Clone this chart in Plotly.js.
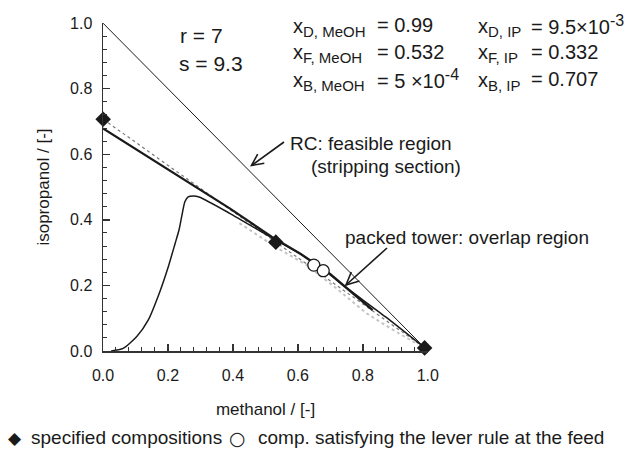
<!DOCTYPE html>
<html>
<head>
<meta charset="utf-8">
<script src="https://cdn.plot.ly/plotly-3.0.1.min.js"></script>
<style>html,body{margin:0;padding:0;background:#fff;}#chart{width:639px;height:453px;}</style>
</head>
<body>
<div id="chart"></div>
<script>
// ---- data ----
// specified compositions (B, F, D): methanol / isopropanol
const specX = [0.0005, 0.532, 0.99];
const specY = [0.707, 0.332, 0.0095];
// compositions satisfying the lever rule at the feed
const leverX = [0.649, 0.678];
const leverY = [0.262, 0.245];
// feasible-region boundary (triangle hypotenuse)
const diagX = [0, 1];
const diagY = [1, 0];
// mass balance line B-F-D (dotted)
const mbX = [0.0005, 0.99];
const mbY = [0.707, 0.0095];
// thick profile (rectifying)
const profX = [0, 0.10, 0.20, 0.30, 0.39, 0.52, 0.61, 0.70, 0.74, 0.83];
const profY = [0.679, 0.616, 0.554, 0.492, 0.435, 0.348, 0.295, 0.234, 0.200, 0.125];
// stripping profile curve
const curveX = [0.025, 0.062, 0.104, 0.139, 0.175, 0.201, 0.222, 0.234, 0.242, 0.252, 0.262, 0.278, 0.298, 0.39, 0.52, 0.61, 0.70, 0.74, 0.87, 0.99];
const curveY = [0.0, 0.008, 0.044, 0.094, 0.181, 0.257, 0.328, 0.369, 0.409, 0.455, 0.470, 0.473, 0.469, 0.420, 0.345, 0.295, 0.232, 0.200, 0.104, 0.01];
// overlap band (gray stipple)
const bandX = [0.42, 0.53, 0.627, 0.72, 0.811, 0.90, 0.97];
const bandY = [0.39, 0.318, 0.262, 0.19, 0.115, 0.06, 0.02];

const xTitle = 'methanol / [-]';
const yTitle = 'isopropanol / [-]';
const specLabels = ['x<sub><span style="font-size:15px">D, MeOH</span></sub>',
                    'x<sub><span style="font-size:15px">F, MeOH</span></sub>',
                    'x<sub><span style="font-size:15px">B, MeOH</span></sub>',
                    'x<sub><span style="font-size:15px">D, IP</span></sub>',
                    'x<sub><span style="font-size:15px">F, IP</span></sub>',
                    'x<sub><span style="font-size:15px">B, IP</span></sub>'];
const specValues = ['= 0.99', '= 0.532', '= 5 \u00d710<sup><span style="font-size:16px">-4</span></sup>',
                    '= 9.5\u00d710<sup><span style="font-size:16px">-3</span></sup>', '= 0.332', '= 0.707'];

// ---- layout helpers (pixel -> paper) ----
const L = 103, T = 23, W = 325, H = 328;
const px = x => (x - L) / W;
const py = y => (T + H - y) / H;
const FONT = 'Liberation Sans, Arial, Helvetica, sans-serif';
const INK = '#1a1a1a';

const traces = [
  {x: bandX, y: bandY, mode: 'lines', line: {color: '#c4c4c4', width: 2, dash: 'dot'}, hoverinfo: 'skip'},
  {x: mbX, y: mbY, mode: 'lines', line: {color: '#777777', width: 1.2, dash: 'dot'}, hoverinfo: 'skip'},
  {x: diagX, y: diagY, mode: 'lines', line: {color: INK, width: 1}},
  {x: curveX, y: curveY, mode: 'lines', line: {color: INK, width: 1.5, shape: 'spline', smoothing: 0.6}},
  {x: profX, y: profY, mode: 'lines', line: {color: INK, width: 2.3}},
  {x: leverX, y: leverY, mode: 'markers', cliponaxis: false,
   marker: {symbol: 'circle', size: 12, color: '#ffffff', line: {color: INK, width: 1.3}}},
  {x: specX, y: specY, mode: 'markers', cliponaxis: false,
   marker: {symbol: 'diamond', size: 12, color: INK, line: {width: 0}}}
];

function ann(text, x, y, size, opts) {
  return Object.assign({text: text, xref: 'paper', yref: 'paper', x: px(x), y: py(y),
    xanchor: 'left', yanchor: 'middle', showarrow: false, borderpad: 0,
    font: {family: FONT, size: size, color: INK}}, opts || {});
}

const rowsY = [26, 53, 80];
const annotations = [
  ann('r = 7', 179, 35, 21),
  ann('s = 9.3', 178, 63, 21),
  ann('RC: feasible region', 289, 143, 19),
  ann('(stripping section)', 310, 166, 19),
  ann('packed tower: overlap region', 344, 237, 19),
  ann('\u25c6', 7, 438, 17, {font: {family: 'DejaVu Sans', size: 17, color: INK}}),
  ann('specified compositions', 30, 438, 19),
  ann('\u25cb', 228, 438, 19, {font: {family: 'DejaVu Sans', size: 19, color: INK}}),
  ann('comp. satisfying the lever rule at the feed', 257, 438, 19)
];
for (let i = 0; i < 3; i++) {
  annotations.push(ann(specLabels[i], 292, rowsY[i] + 1, 20));
  annotations.push(ann(specValues[i], 376, rowsY[i] - 1, 20));
  annotations.push(ann(specLabels[i + 3], 477, rowsY[i] + 1, 20));
  annotations.push(ann(specValues[i + 3], 530, rowsY[i] - 1, 20));
}

// arrows with open V heads
function arrow(tx, ty, hx, hy, len, ang) {
  const a = Math.atan2(ty - hy, tx - hx);
  const p1 = [hx + len * Math.cos(a + ang), hy + len * Math.sin(a + ang)];
  const p2 = [hx + len * Math.cos(a - ang), hy + len * Math.sin(a - ang)];
  const P = (p) => px(p[0]) + ',' + py(p[1]);
  return [
    {type: 'line', xref: 'paper', yref: 'paper', x0: px(tx), y0: py(ty), x1: px(hx), y1: py(hy),
     line: {color: INK, width: 1.6}},
    {type: 'path', xref: 'paper', yref: 'paper',
     path: 'M' + P(p1) + 'L' + P([hx, hy]) + 'L' + P(p2), line: {color: INK, width: 1.6}}
  ];
}
const shapes = [].concat(
  arrow(284, 142, 251.5, 165.5, 13, 0.45),
  arrow(387, 248, 346, 285, 14, 0.45)
);

const axisCommon = {
  range: [0, 1.0005], showline: true, linecolor: '#333', linewidth: 1.5,
  ticks: 'inside', ticklen: 7, tickwidth: 1.3, tickcolor: '#333',
  tick0: 0, dtick: 0.2, tickformat: '.1f', showgrid: false, zeroline: false,
  tickfont: {family: FONT, size: 16, color: INK},
  minor: {dtick: 0.04, tick0: 0, ticks: 'inside', ticklen: 4, tickwidth: 1, tickcolor: '#333', showgrid: false}
};

const layout = {
  width: 639, height: 453,
  margin: {l: L, r: 639 - L - W, t: T, b: 453 - T - H, pad: 0},
  paper_bgcolor: '#fff', plot_bgcolor: '#fff',
  showlegend: false,
  xaxis: Object.assign({}, axisCommon, {ticklabelstandoff: 9,
    title: {text: xTitle, font: {family: FONT, size: 17, color: INK}, standoff: 20}}),
  yaxis: Object.assign({}, axisCommon, {ticklabelstandoff: 6,
    title: {text: yTitle, font: {family: FONT, size: 17, color: INK}, standoff: 16}}),
  annotations: annotations,
  shapes: shapes
};

Plotly.newPlot('chart', traces, layout, {staticPlot: true, displayModeBar: false});
</script>
</body>
</html>
